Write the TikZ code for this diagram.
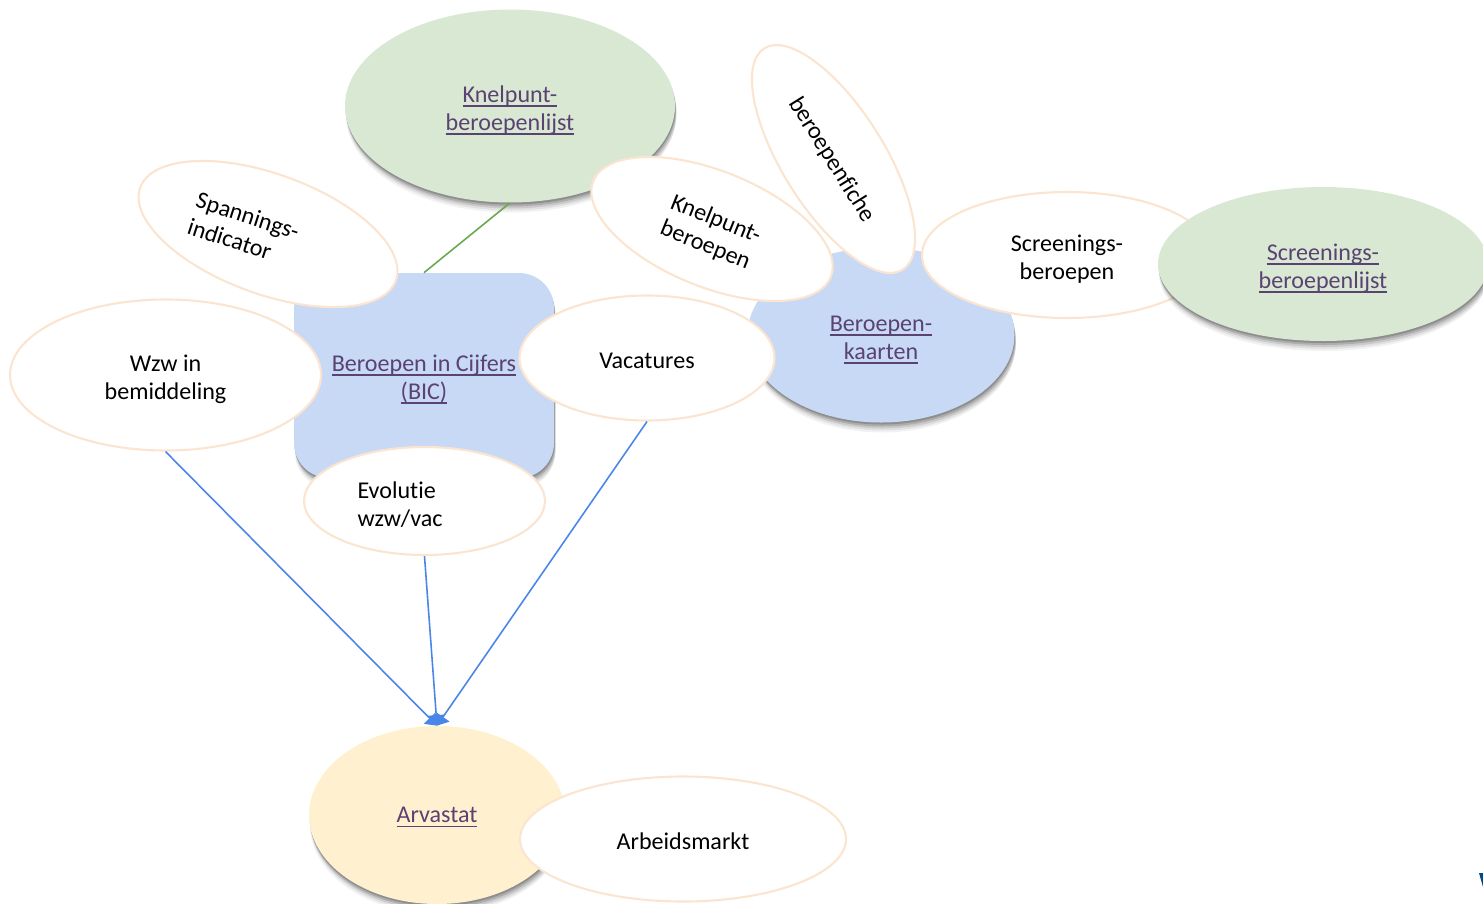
\documentclass[tikz,border=0pt]{standalone}
\usepackage{fontspec}
\setmainfont{Carlito}[Ligatures=CommonOff]
\usetikzlibrary{arrows.meta,positioning,shapes.geometric,shadows}

\definecolor{rimcol}{HTML}{FBE5D0}
\definecolor{greencol}{HTML}{D9E8D3}
\definecolor{bluecol}{HTML}{C8D9F6}
\definecolor{yellowcol}{HTML}{FFF1CF}
\definecolor{linkcol}{HTML}{5A4272}
\definecolor{bluelinecol}{HTML}{4A86E8}
\definecolor{greenlinecol}{HTML}{6AA84F}
\definecolor{logocol}{HTML}{004B87}

\def\px{0.02cm}
\def\toprise{30pt}
\newsavebox{\lnkbox}
\newcommand{\lnk}[1]{\textcolor{linkcol}{\sbox{\lnkbox}{\color{linkcol}#1}\rlap{\rule[-2.6pt]{\wd\lnkbox}{1.1pt}}\usebox{\lnkbox}}}

\tikzset{
	txt/.style={font=\fontsize{13.7}{15.9}\selectfont, align=center, execute at begin node={\rule{0pt}{\toprise}}},
	oneline/.code={\def\toprise{11.6pt}},
	softshadow/.style={
		drop shadow={shadow xshift=1*\px,shadow yshift=-10*\px,fill=black,opacity=.05},
		drop shadow={shadow xshift=1.5*\px,shadow yshift=-8*\px,fill=black,opacity=.07},
		drop shadow={shadow xshift=1.5*\px,shadow yshift=-6*\px,fill=black,opacity=.1},
		drop shadow={shadow xshift=1*\px,shadow yshift=-4*\px,fill=black,opacity=.14},
		drop shadow={shadow xshift=0.5*\px,shadow yshift=-2*\px,fill=black,opacity=.18}},
	blob/.style 2 args={ellipse, txt, inner sep=0pt, minimum width=#1*\px, minimum height=#2*\px},
	whiteblob/.style 2 args={blob={#1}{#2}, draw=rimcol, line width=1.2pt, fill=white},
	feeder/.style={bluelinecol, line width=0.9pt, -{Triangle[length=6pt,width=9pt]}},
	tie/.style={greenlinecol, line width=0.9pt}
}

\begin{document}
\begin{tikzpicture}[x=0.02cm, y=-0.02cm]
	
	\clip (0,0) rectangle (1483,903);
	
	% top group
	\node[blob={330}{193}, fill=greencol, softshadow] (knelpuntlijst) at (510,106) {\lnk{Knelpunt-}\\\lnk{beroepenlijst}};
	\node[minimum width=260*\px, minimum height=205*\px, rounded corners=35*\px, fill=bluecol, softshadow, txt, inner sep=0pt] (bic) at (424,375.5) {\lnk{Beroepen in Cijfers}\\\lnk{(BIC)}};
	\draw[tie] (knelpuntlijst.south) -- (bic.north);
	
	% around BIC
	\node[whiteblob={272}{120}, rotate=-20] (spanning) at (268,234) {};
	\node[txt, align=left, rotate=-18] (spanningtxt) at (245,225) {Spannings-\\indicator};
	\node[whiteblob={311}{151}] (wzw) at (165.5,375) {Wzw in\\bemiddeling};
	\node[whiteblob={241}{108}] (evolutie) at (424.5,501) {};
	\node[txt, align=left] (evolutietxt) at (400,501) {Evolutie\\wzw/vac};
	
	% right group
	\node[blob={267}{175}, fill=bluecol, softshadow] (kaarten) at (881,335) {\lnk{Beroepen-}\\\lnk{kaarten}};
	\node[whiteblob={255}{125}, oneline] (vacatures) at (647,358) {Vacatures};
	\node[whiteblob={261}{102}, rotate=-58, oneline] (fiche) at (833.5,159) {beroepenfiche};
	\node[whiteblob={256}{116}, rotate=-22, align=left] (knelpunt) at (712,229) {Knelpunt-\\beroepen};
	\node[whiteblob={290}{126}] (screening) at (1067,255) {Screenings-\\beroepen};
	\node[blob={330}{154}, fill=greencol, softshadow] (screeninglijst) at (1323,264) {\lnk{Screenings-}\\\lnk{beroepenlijst}};
	
	% bottom group
	\node[blob={256}{178}, fill=yellowcol, softshadow, oneline] (arvastat) at (437,815) {\lnk{Arvastat}};
	\node[whiteblob={326}{125}, oneline] (markt) at (683,839) {Arbeidsmarkt};
	
	\draw[feeder] (wzw.south) -- (arvastat.north);
	\draw[feeder] (evolutie.south) -- (arvastat.north);
	\draw[feeder] (vacatures.south) -- (arvastat.north);
	
	% corner of the logo
	\fill[logocol] (1479,873) -- (1483,873) -- (1483,887) -- cycle;
	
\end{tikzpicture}
\end{document}
